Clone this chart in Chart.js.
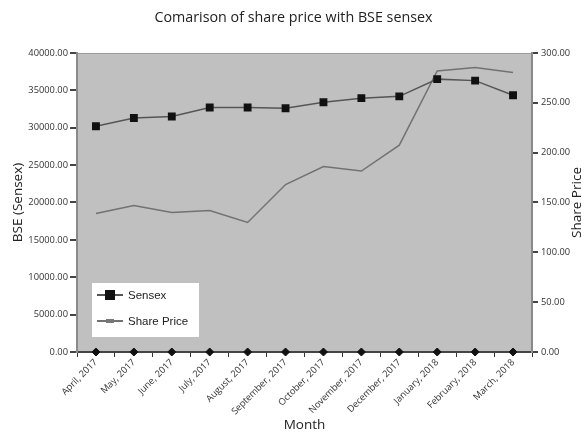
<!DOCTYPE html>
<html>
<head>
<meta charset="utf-8">
<script src="https://cdn.jsdelivr.net/npm/chart.js@4.4.1/dist/chart.umd.min.js"></script>
<style>
  html, body { margin: 0; padding: 0; background: #fff; }
  #wrap { width: 587px; height: 436px; position: relative; }
</style>
</head>
<body>
<div id="wrap"><canvas id="c"></canvas></div>
<script>
const months = ['April, 2017', 'May, 2017', 'June, 2017', 'July, 2017', 'August, 2017', 'September, 2017',
  'October, 2017', 'November, 2017', 'December, 2017', 'January, 2018', 'February, 2018', 'March, 2018'];
const sensex = [30200, 31300, 31500, 32700, 32700, 32600, 33400, 33950, 34200, 36500, 36300, 34350];
const sharePrice = [139, 147, 140, 142, 130, 168, 186, 181.5, 207.5, 282, 285.5, 280.5];
const baseline = [0, 0, 0, 0, 0, 0, 0, 0, 0, 0, 0, 0];
const sensexTicks = [0, 5000, 10000, 15000, 20000, 25000, 30000, 35000, 40000];
const priceTicks = [0, 50, 100, 150, 200, 250, 300];

const tickFont = { family: 'Open Sans', size: 9.3 };
const titleFont = { family: 'Open Sans', size: 13.5 };

// grey plot area
const plotBg = {
  id: 'plotBg',
  beforeDraw(chart) {
    const a = chart.chartArea, ctx = chart.ctx;
    ctx.save();
    ctx.fillStyle = '#c0c0c0';
    ctx.fillRect(a.left, a.top, a.right - a.left, a.bottom - a.top);
    ctx.strokeStyle = '#9a9a9a';
    ctx.lineWidth = 1;
    ctx.beginPath();
    ctx.moveTo(a.left, a.top + 0.5);
    ctx.lineTo(a.right, a.top + 0.5);
    ctx.stroke();
    ctx.restore();
  }
};

// legend box inside the plot, plus the right axis title (reads bottom-to-top)
const innerLegend = {
  id: 'innerLegend',
  afterDraw(chart) {
    const ctx = chart.ctx;
    const a = chart.chartArea;
    ctx.save();
    const x = a.left + 15, y = a.bottom - 69, w = 107, h = 54;
    ctx.fillStyle = '#ffffff';
    ctx.fillRect(x, y, w, h);
    ctx.font = '11.5px "Liberation Sans Narrow", "Liberation Sans", sans-serif';
    ctx.textBaseline = 'middle';
    [0, 1].forEach(i => {
      const ds = chart.data.datasets[i];
      const cy = y + 12 + i * 26;
      ctx.strokeStyle = ds.borderColor;
      ctx.lineWidth = 2;
      ctx.beginPath();
      ctx.moveTo(x + 5, cy);
      ctx.lineTo(x + 31, cy);
      ctx.stroke();
      if (i === 0) {
        ctx.fillStyle = '#111';
        ctx.fillRect(x + 13, cy - 5, 10, 10);
      } else {
        ctx.fillStyle = '#777';
        ctx.fillRect(x + 14, cy - 2, 8, 4);
      }
      ctx.fillStyle = '#222';
      ctx.fillText(ds.label, x + 36, cy + 1);
    });
    // right axis title
    ctx.font = '13.5px "Open Sans", sans-serif';
    ctx.fillStyle = '#222';
    ctx.textAlign = 'center';
    ctx.translate(577, (a.top + a.bottom) / 2);
    ctx.rotate(-Math.PI / 2);
    ctx.fillText('Share Price', 0, 0);
    ctx.restore();
  }
};

new Chart(document.getElementById('c'), {
  type: 'line',
  data: {
    labels: months,
    datasets: [
      {
        label: 'Sensex',
        data: sensex,
        yAxisID: 'y',
        borderColor: '#555555',
        borderWidth: 1.5,
        pointStyle: 'rect',
        pointRadius: 4.5,
        pointBackgroundColor: '#111',
        pointBorderColor: '#111',
        tension: 0
      },
      {
        label: 'Share Price',
        data: sharePrice,
        yAxisID: 'y1',
        borderColor: '#727272',
        borderWidth: 1.5,
        pointRadius: 0,
        tension: 0
      },
      {
        label: 'base',
        data: baseline,
        yAxisID: 'y',
        showLine: false,
        pointStyle: 'rectRot',
        pointRadius: 4,
        pointBackgroundColor: '#111',
        pointBorderColor: '#111',
        clip: false
      }
    ]
  },
  options: {
    responsive: true,
    maintainAspectRatio: false,
    animation: false,
    layout: { padding: 0 },
    plugins: {
      legend: { display: false },
      tooltip: { enabled: false },
      title: {
        display: true,
        text: 'Comarison of share price with BSE sensex',
        color: '#222',
        font: { family: 'Open Sans', size: 14.3, weight: 'normal' },
        padding: { top: 9.4, bottom: 26.4 }
      }
    },
    scales: {
      x: {
        type: 'category',
        offset: true,
        grid: { display: true, drawOnChartArea: false, offset: true, tickLength: 5, color: '#333' },
        border: { color: '#444', width: 2 },
        ticks: { minRotation: 45, maxRotation: 45, font: tickFont, color: '#333', padding: 0 },
        title: { display: true, text: 'Month', font: titleFont, color: '#222', padding: { top: 0, bottom: 3 } },
        afterFit(scale) { scale.height = 84; }
      },
      y: {
        position: 'left',
        min: 0,
        max: 40000,
        afterBuildTicks(scale) { scale.ticks = sensexTicks.map(v => ({ value: v })); },
        ticks: { font: tickFont, color: '#333', padding: 2, callback: v => Number(v).toFixed(2) },
        grid: { drawOnChartArea: false, tickLength: 7, color: '#444', lineWidth: 2 },
        border: { color: '#8a8a8a', width: 2 },
        title: { display: true, text: 'BSE (Sensex)', font: titleFont, color: '#222', padding: { top: 10, bottom: 0 } },
        afterFit(scale) { scale.width = 77; }
      },
      y1: {
        position: 'right',
        min: 0,
        max: 300,
        afterBuildTicks(scale) { scale.ticks = priceTicks.map(v => ({ value: v })); },
        ticks: { font: tickFont, color: '#333', padding: 3, callback: v => Number(v).toFixed(2) },
        grid: { drawOnChartArea: false, tickLength: 6, color: '#444', lineWidth: 2 },
        border: { color: '#8a8a8a', width: 2 },
        afterFit(scale) { scale.width = 55; }
      }
    }
  },
  plugins: [plotBg, innerLegend]
});
</script>
</body>
</html>
